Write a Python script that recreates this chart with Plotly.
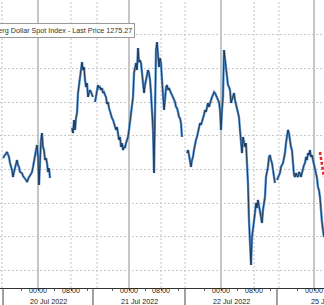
import plotly.graph_objects as go

# ---- data (x = trading hours from 00:00 20 Jul 2022, gaps removed; y = index level) ----
seg1_t = [-8.43,-7.95,-7.47,-6.99,-6.75,-6.27,-6.02,-5.78,-5.54,-5.06,-4.82,-4.58,-4.34,-3.86,-3.62,-3.37,-2.89,-2.65,-2.41,-2.17,
          -1.69,-1.45,-1.20,-0.96,-0.72,-0.48,-0.24,0.0,0.24,0.48,0.72,0.96,1.20,1.45,1.69,1.93,2.17,2.41,2.65,2.89]
seg1_v = [1280.85,1281.07,1281.30,1280.93,1280.48,1279.96,1279.44,1279.81,1280.19,1280.70,1280.33,1280.19,1279.81,1279.74,1279.52,
          1279.44,1279.22,1279.07,1279.37,1279.44,1279.67,1279.81,1280.19,1280.70,1281.07,1281.44,1281.81,1280.93,1278.85,1281.44,
          1282.19,1282.70,1281.67,1281.44,1280.70,1280.85,1280.48,1279.81,1280.11,1279.37]

seg2_t = [8.19,8.43,8.68,8.92,9.16,9.40,9.64,9.88,10.12,10.36,10.60,10.85,11.09,11.33,11.57,11.81,12.05,12.29,12.53,12.77,13.01,13.25]
seg2_v = [1283.07,1282.70,1283.67,1282.93,1283.81,1284.19,1285.67,1286.26,1286.85,1287.59,1287.96,1287.37,1287.59,1286.63,
          1286.11,1286.41,1285.37,1285.67,1285.89,1285.74,1285.52,1285.37]

seg3_t = [13.74,13.98,14.22,14.46,14.70,14.94,15.18,15.42,15.66,15.91,16.15,16.39,16.63,16.87,17.11,17.35,17.59,17.83,18.08,18.32,
          18.56,18.80,19.04,19.28,19.52,19.76,20.00,20.24,20.48,20.73,20.97,21.21,21.45,21.69,21.93,22.17,22.41,22.65,22.90,23.14,
          23.38,23.62,23.86,24.10,24.34,24.58,24.82,25.06,25.31,25.55,25.79,26.03,26.27,26.51,26.75,26.99,27.23,27.47,27.72,27.96,
          28.20,28.44,28.68,28.92,29.16,29.40,29.64,29.88,30.13,30.37,30.61,30.85,31.09,31.33,31.57,31.81,32.05,32.29,32.54,32.78,
          33.02,33.26,33.50,33.74,33.98,34.22,34.46,34.70]
seg3_v = [1285.00,1285.52,1285.89,1286.26,1286.04,1286.11,1285.89,1286.04,1285.67,1285.74,1285.52,1285.37,1284.85,1285.00,1284.56,
          1284.26,1284.19,1283.81,1283.67,1283.44,1283.07,1282.93,1283.15,1282.70,1282.19,1282.41,1281.67,1281.96,1281.44,1281.67,
          1281.59,1281.96,1282.19,1282.41,1282.93,1283.67,1284.19,1284.78,1285.37,1287.15,1287.52,1287.89,1287.37,1289.00,1287.96,
          1288.11,1287.89,1287.00,1286.41,1285.67,1286.26,1286.63,1287.22,1287.37,1287.15,1286.63,1285.67,1284.41,1282.93,1279.74,
          1284.19,1288.85,1289.44,1288.11,1287.59,1288.26,1287.89,1286.63,1285.15,1284.41,1285.15,1286.11,1286.26,1285.89,1286.04,
          1285.74,1285.67,1285.52,1285.37,1285.15,1285.00,1284.63,1284.56,1284.26,1283.89,1283.81,1283.44,1282.41]

seg4_t = [35.91,36.15,36.39,36.63,36.87,37.11,37.35,37.59,37.83,38.07,38.31,38.55,38.80,39.04,39.28,39.52,39.76,40.00,40.24,40.48,
          40.72,40.96,41.20,41.45,41.69,41.93,42.17,42.41,42.65,42.89,43.13,43.37,43.61,43.86,44.10,44.34,44.58,44.82,45.06,45.30,
          45.54,45.78,46.03,46.27,46.51,46.75,46.99,47.23,47.47,47.71,47.95,48.19,48.43,48.67,48.92,49.16,49.40,49.64,49.88,50.12,
          50.36,50.60,50.84,51.08,51.33,51.57,51.81,52.05,52.29,52.53,52.77,53.01,53.25,53.49,53.73,53.98,54.22,54.46,54.70,54.94,
          55.18,55.42,55.66,55.90,56.14,56.39,56.63,56.87,57.11]
seg4_v = [1281.22,1281.44,1281.07,1280.56,1280.19,1280.70,1280.93,1281.44,1281.96,1282.19,1282.41,1282.78,1282.93,1283.44,1283.30,
          1283.67,1283.81,1284.04,1284.41,1284.26,1284.78,1284.93,1284.63,1284.93,1285.15,1285.37,1285.52,1285.74,1285.67,1285.52,
          1285.37,1285.15,1285.00,1284.41,1282.93,1284.41,1285.37,1288.85,1288.11,1287.59,1286.63,1286.26,1286.11,1285.89,1284.93,
          1285.15,1285.37,1285.67,1285.15,1284.78,1284.41,1284.19,1283.89,1282.93,1282.19,1281.22,1282.41,1281.96,1281.67,1281.96,
          1280.70,1279.00,1276.26,1274.56,1272.93,1275.00,1275.52,1276.04,1276.78,1277.52,1277.15,1277.74,1277.37,1277.00,1276.48,
          1276.04,1277.00,1277.74,1277.96,1279.44,1279.81,1280.19,1280.93,1281.07,1280.70,1280.48,1279.96,1279.59,1279.00]

seg5_t = [57.59,57.83,58.07,58.31,58.55,58.79,59.04,59.28,59.52,59.76,60.00,60.24,60.48,60.72,60.96,61.20,61.45,61.69,61.93,62.17,
          62.41,62.65,62.89,63.13,63.37,63.61,63.86,64.10,64.34,64.58,64.82,65.06,65.30,65.54,65.78,66.02,66.27,66.51,66.75,66.99,
          67.23,67.47,67.71,67.95,68.19,68.43,68.67,68.92]
seg5_v = [1279.22,1279.44,1279.59,1279.74,1280.19,1280.33,1280.48,1280.85,1281.22,1281.96,1282.33,1282.93,1282.70,1281.96,1281.67,
          1281.44,1279.96,1279.59,1279.44,1279.74,1279.52,1279.44,1279.81,1279.74,1279.44,1279.81,1279.96,1280.33,1280.48,1280.93,
          1280.70,1281.22,1281.07,1281.44,1280.93,1281.07,1280.70,1280.33,1280.19,1279.74,1279.37,1278.70,1278.48,1277.96,1276.48,
          1276.11,1275.52,1275.00]

red_t = [67.95, 68.43, 68.92]
red_v = [1281.30, 1280.48, 1279.44]

# ---- axis labels ----
midnight_ticks = [0.0, 21.93, 44.10, 66.51]
eight_ticks = [7.95, 29.64, 52.05]
session_breaks = [-8.67, 14.22, 35.42, 58.07]
date_separators = [-8.43, 13.25, 35.42, 57.59]
date_labels = ["20 Jul 2022", "21 Jul 2022", "22 Jul 2022", "25 Jul 2022"]
date_label_pos = [2.41, 24.34, 46.51, 65.30]
legend_text = "Bloomberg Dollar Spot Index - Last Price 1275.27"

segs_t = [seg1_t, seg2_t, seg3_t, seg4_t, seg5_t]
segs_v = [seg1_v, seg2_v, seg3_v, seg4_v, seg5_v]
t_all, v_all = [], []
for st, sv in zip(segs_t, segs_v):
    t_all += st + [None]
    v_all += sv + [None]

FONT = "Liberation Sans, Arial, sans-serif"

fig = go.Figure()
fig.add_trace(go.Scatter(x=t_all, y=v_all, mode="lines", connectgaps=False,
                         line=dict(color="#5592d3", width=2.4), hoverinfo="skip"))
fig.add_trace(go.Scatter(x=t_all, y=v_all, mode="lines", connectgaps=False,
                         line=dict(color="#0e1620", width=0.7), hoverinfo="skip"))
fig.add_trace(go.Scatter(x=red_t, y=red_v, mode="lines",
                         line=dict(color="#e3262c", width=2.6, dash="3px,2px"), hoverinfo="skip"))

tickvals = sorted(midnight_ticks + eight_ticks)
ticktext = ["00:00" if v in midnight_ticks else "08:00" for v in tickvals]

minor_vals = []
for m in midnight_ticks:
    minor_vals += [m - 4, m + 4, m + 12]

shapes = []
for m in midnight_ticks:
    shapes.append(dict(type="line", xref="x", yref="paper", x0=m, x1=m, y0=0, y1=1,
                       line=dict(color="#b8b8b8", width=1.6), layer="below"))
for m in eight_ticks + session_breaks:
    shapes.append(dict(type="line", xref="x", yref="paper", x0=m, x1=m, y0=0, y1=1,
                       line=dict(color="#c4c4c4", width=1, dash="2px,2px"), layer="below"))
for m in date_separators:
    shapes.append(dict(type="line", xref="x", yref="paper", x0=m, x1=m, y0=0, y1=-0.06,
                       line=dict(color="#444444", width=1)))

annotations = []
for lab, pos in zip(date_labels, date_label_pos):
    annotations.append(dict(text=lab, xref="x", yref="paper", x=pos, y=-0.0486,
                            xanchor="left" if lab.startswith("25") else "center", yanchor="middle",
                            showarrow=False, font=dict(family=FONT, size=7.2, color="#222222")))
annotations.append(dict(text=legend_text, xref="paper", yref="paper", x=135/324, y=0.8924,
                        xanchor="right", yanchor="middle", showarrow=False,
                        bgcolor="white", bordercolor="#9a9a9a", borderwidth=1, borderpad=2,
                        font=dict(family=FONT, size=7.2, color="#333333")))

fig.update_layout(
    width=324, height=305,
    margin=dict(l=0, r=0, t=0, b=17),
    paper_bgcolor="white", plot_bgcolor="white",
    showlegend=False,
    shapes=shapes, annotations=annotations,
    xaxis=dict(range=[-9.16, 68.92], tickvals=tickvals, ticktext=ticktext,
               ticks="outside", ticklen=2, tickcolor="#444444", tickwidth=1,
               ticklabelstandoff=-7,
               showline=True, linecolor="#333333", linewidth=1,
               showgrid=False, zeroline=False,
               tickfont=dict(family=FONT, size=7.2, color="#222222"),
               minor=dict(tickvals=minor_vals, ticks="outside", ticklen=2, tickcolor="#666666")),
    yaxis=dict(range=[1271.22, 1292.56], tick0=1275, dtick=2.5,
               showticklabels=False, showgrid=True, gridcolor="#c8c8c8", griddash="2px,2px",
               gridwidth=1, zeroline=False, showline=False, ticks=""),
)

fig.write_html("out.html")
